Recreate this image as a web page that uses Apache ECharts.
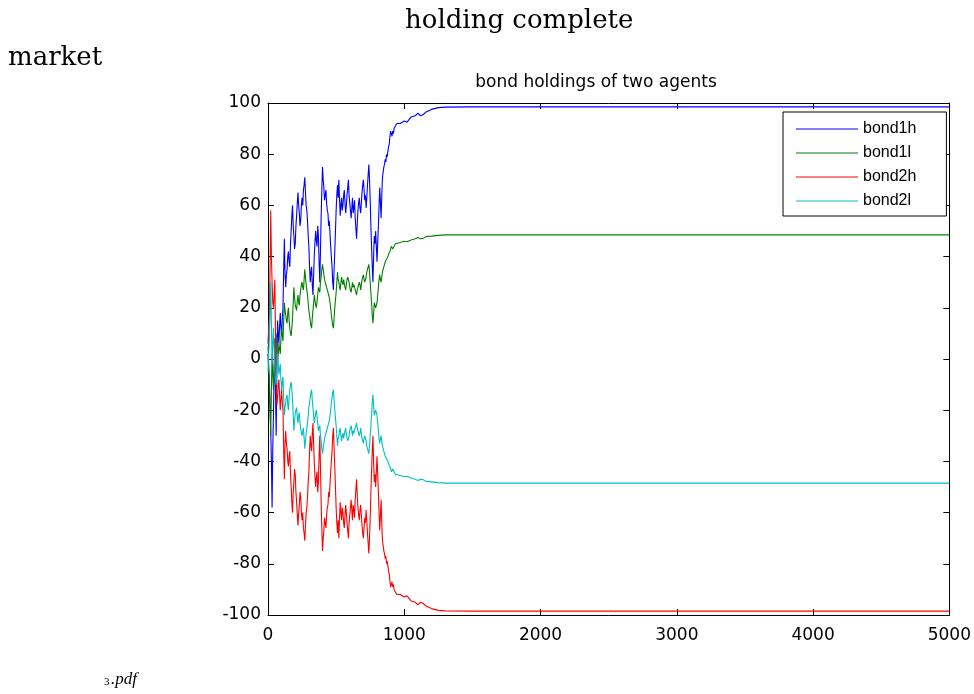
<!DOCTYPE html>
<html>
<head>
<meta charset="utf-8">
<script src="https://cdn.jsdelivr.net/npm/echarts@6/dist/echarts.min.js"></script>
<style>
html,body{margin:0;padding:0;background:#fff;}
#c{width:974px;height:694px;}
</style>
</head>
<body>
<div id="c"></div>
<script>
// time steps (x values)
var steps = [
0,5,10,15,20,25,30,35,40,45,50,55,60,65,70,75,80,85,90,95,
100,105,110,115,120,125,130,135,140,145,150,155,160,165,170,175,180,185,190,195,
200,205,210,215,220,225,230,235,240,245,250,255,260,265,270,275,280,285,290,295,
300,305,310,315,320,325,330,335,340,345,350,355,360,365,370,375,380,385,390,395,
400,405,410,415,420,425,430,435,440,445,450,455,460,465,470,475,480,485,490,495,
500,505,510,515,520,525,530,535,540,545,550,555,560,565,570,575,580,585,590,595,
600,605,610,615,620,625,630,635,640,645,650,655,660,665,670,675,680,685,690,695,
700,705,710,715,720,725,730,735,740,745,750,755,760,765,770,775,780,785,790,795,
800,805,810,815,820,825,830,835,840,845,850,855,860,865,870,875,880,885,890,895,
900,905,910,915,920,925,930,935,940,945,950,
970,1000,1020,1050,1080,1100,1120,1140,1160,1200,1250,1300,1500,2000,3000,4000,5000];

var bond1h = [
2,-5,-12,-20,-28,-40,-58,-35,-22,-5,8,-12,-30,-5,15,10,6,13,18,12,
9,16,20,35,47,33,28,33,35,40,42,38,36,45,50,56,60,52,48,43,
45,52,56,61,65,60,57,52,54,60,63,60,66,68,71,65,60,58,54,48,
44,36,30,34,36,29,25,33,41,46,50,46,44,52,48,38,30,42,56,66,
75,70,67,62,64,66,61,58,57,52,54,49,44,40,36,30,27,35,42,50,
58,64,68,63,70,62,56,60,63,58,60,64,66,61,57,60,64,67,70,64,
61,58,55,59,63,57,59,62,55,51,47,53,58,61,63,59,57,61,65,68,
70,66,62,64,59,63,68,72,76,70,62,52,44,36,30,40,48,45,50,44,
38,45,52,60,67,61,55,64,71,73,75,76,78,77,80,79,81,83,84,87,
89,88,87,89,88,90,90,91,91,92,92,
92,93,92.5,94.5,95,96,95,95.5,96.5,97.5,98.2,98.4,98.5,98.5,98.5,98.5,98.5];

var bond1l = [
5,-2,-8,-18,-30,-12,2,-6,-12,-4,4,8,10,4,-2,2,6,4,2,8,
12,9,7,15,22,19,17,15,14,18,20,15,12,10,9,12,16,22,28,24,
21,20,19,23,25,22,21,25,27,29,30,28,27,31,35,32,29,27,25,22,
19,17,15,13,12,16,19,22,25,23,21,20,20,25,28,27,26,30,32,35,
37,35,33,31,30,29,28,27,26,25,24,22,20,17,15,13,12,16,20,23,
26,30,34,31,30,28,27,30,32,30,29,31,31,28,27,29,31,32,32,30,
28,27,26,28,30,28,29,28,27,26,25,27,28,29,30,29,27,29,31,32,
33,31,30,31,32,34,35,36,37,34,30,26,22,17,14,18,22,21,20,21,
22,25,28,31,33,31,30,32,34,35,36,37,38,38,39,39,40,41,41,42,
43,44,44,43,43,44,44,45,45,45,45,
45.5,46,45.8,46.5,47,47.5,47,47.2,47.8,48,48.3,48.5,48.5,48.5,48.5,48.5,48.5];

var bond2h = [
6,12,16,35,58,40,30,22,20,25,31,10,-10,-18,-15,-10,-8,-14,-20,-16,
-12,-17,-20,-35,-47,-33,-28,-33,-35,-40,-42,-38,-36,-45,-50,-56,-60,-52,-48,-43,
-45,-52,-56,-61,-65,-60,-57,-52,-54,-60,-63,-60,-66,-68,-71,-65,-60,-58,-54,-48,
-44,-36,-30,-34,-36,-29,-25,-33,-41,-46,-50,-46,-44,-52,-48,-38,-30,-42,-56,-66,
-75,-70,-67,-62,-64,-66,-61,-58,-57,-52,-54,-49,-44,-40,-36,-30,-27,-35,-42,-50,
-58,-64,-68,-63,-70,-62,-56,-60,-63,-58,-60,-64,-66,-61,-57,-60,-64,-67,-70,-64,
-61,-58,-55,-59,-63,-57,-59,-62,-55,-51,-47,-53,-58,-61,-63,-59,-57,-61,-65,-68,
-70,-66,-62,-64,-59,-63,-68,-72,-76,-70,-62,-52,-44,-36,-30,-40,-48,-45,-50,-44,
-38,-45,-52,-60,-67,-61,-55,-64,-71,-73,-75,-76,-78,-77,-80,-79,-81,-83,-84,-87,
-89,-88,-87,-89,-88,-90,-90,-91,-91,-92,-92,
-92,-93,-92.5,-94.5,-95,-96,-95,-95.5,-96.5,-97.5,-98.2,-98.4,-98.5,-98.5,-98.5,-98.5,-98.5];

var bond2l = [
-5,2,8,18,30,14,-2,6,12,4,-4,-8,-10,-4,2,-2,-6,-4,-2,-8,
-12,-9,-7,-15,-22,-19,-17,-15,-14,-18,-20,-15,-12,-10,-9,-12,-16,-22,-28,-24,
-21,-20,-19,-23,-25,-22,-21,-25,-27,-29,-30,-28,-27,-31,-35,-32,-29,-27,-25,-22,
-19,-17,-15,-13,-12,-16,-19,-22,-25,-23,-21,-20,-20,-25,-28,-27,-26,-30,-32,-35,
-37,-35,-33,-31,-30,-29,-28,-27,-26,-25,-24,-22,-20,-17,-15,-13,-12,-16,-20,-23,
-26,-30,-34,-31,-30,-28,-27,-30,-32,-30,-29,-31,-31,-28,-27,-29,-31,-32,-32,-30,
-28,-27,-26,-28,-30,-28,-29,-28,-27,-26,-25,-27,-28,-29,-30,-29,-27,-29,-31,-32,
-33,-31,-30,-31,-32,-34,-35,-36,-37,-34,-30,-26,-22,-17,-14,-18,-22,-21,-20,-21,
-22,-25,-28,-31,-33,-31,-30,-32,-34,-35,-36,-37,-38,-38,-39,-39,-40,-41,-41,-42,
-43,-44,-44,-43,-43,-44,-44,-45,-45,-45,-45,
-45.5,-46,-45.8,-46.5,-47,-47.5,-47,-47.2,-47.8,-48,-48.3,-48.5,-48.5,-48.5,-48.5,-48.5,-48.5];

var seriesNames = ['bond1h','bond1l','bond2h','bond2l'];
var seriesColors = ['#0000ff','#008000','#ff0000','#00bfbf'];
var seriesValues = [bond1h, bond1l, bond2h, bond2l];

function pairs(vals){ return steps.map(function(t,i){ return [t, vals[i]]; }); }

var chart = echarts.init(document.getElementById('c'), null, {renderer:'canvas'});
var AXFONT = '"DejaVu Sans", sans-serif';
var LGFONT = '"Liberation Sans", Arial, sans-serif';
var SERIF = '"DejaVu Serif", serif';
var baseAxis = {
  type:'value',
  axisLine:{show:true,onZero:false,lineStyle:{color:'#000',width:1}},
  axisTick:{show:true,inside:true,length:6,lineStyle:{color:'#000'}},
  splitLine:{show:false}
};
chart.setOption({
  animation:false,
  backgroundColor:'#fff',
  title:{
    text:'bond holdings of two agents',
    left:596, top:74, textAlign:'center', padding:0,
    textStyle:{fontFamily:AXFONT,fontSize:17,fontWeight:'normal',color:'#000'}
  },
  graphic:[
    {type:'text',left:405,top:8,style:{text:'holding complete',font:'26px ' + SERIF,fill:'#000'}},
    {type:'text',left:8,top:45,style:{text:'market',font:'26px ' + SERIF,fill:'#000'}},
    {type:'text',left:104,top:677,style:{text:'3',font:'11px "Liberation Serif", serif',fill:'#000'}},
    {type:'text',left:111,top:671,style:{text:'.pdf',font:'italic 17px "Liberation Serif", serif',fill:'#000'}}
  ],
  legend:{
    orient:'vertical', left:783, top:112,
    data:seriesNames,
    icon:'rect', itemWidth:62, itemHeight:1, itemGap:8,
    padding:[9,30,7,13],
    borderColor:'#000', borderWidth:1, backgroundColor:'#fff',
    textStyle:{fontFamily:LGFONT,fontSize:16,color:'#000',lineHeight:16}
  },
  grid:{left:268, top:103, width:684, height:512, containLabel:false},
  xAxis:[
    Object.assign({}, baseAxis, {min:0,max:5000,interval:1000,position:'bottom',
      axisLabel:{fontFamily:AXFONT,fontSize:17,color:'#000',margin:12,
        formatter:function(v){return String(v);}}}),
    Object.assign({}, baseAxis, {min:0,max:5000,interval:1000,position:'top',
      axisLabel:{show:false}})
  ],
  yAxis:[
    Object.assign({}, baseAxis, {min:-100,max:100,interval:20,position:'left',
      axisLabel:{fontFamily:AXFONT,fontSize:17,color:'#000',margin:7}}),
    Object.assign({}, baseAxis, {min:-100,max:100,interval:20,position:'right',
      axisLabel:{show:false}})
  ],
  series: seriesNames.map(function(n,i){
    return {
      name:n, type:'line', xAxisIndex:0, yAxisIndex:0,
      data:pairs(seriesValues[i]),
      showSymbol:false, symbol:'none',
      lineStyle:{color:seriesColors[i],width:1.1},
      itemStyle:{color:seriesColors[i]}
    };
  })
});
</script>
</body>
</html>
